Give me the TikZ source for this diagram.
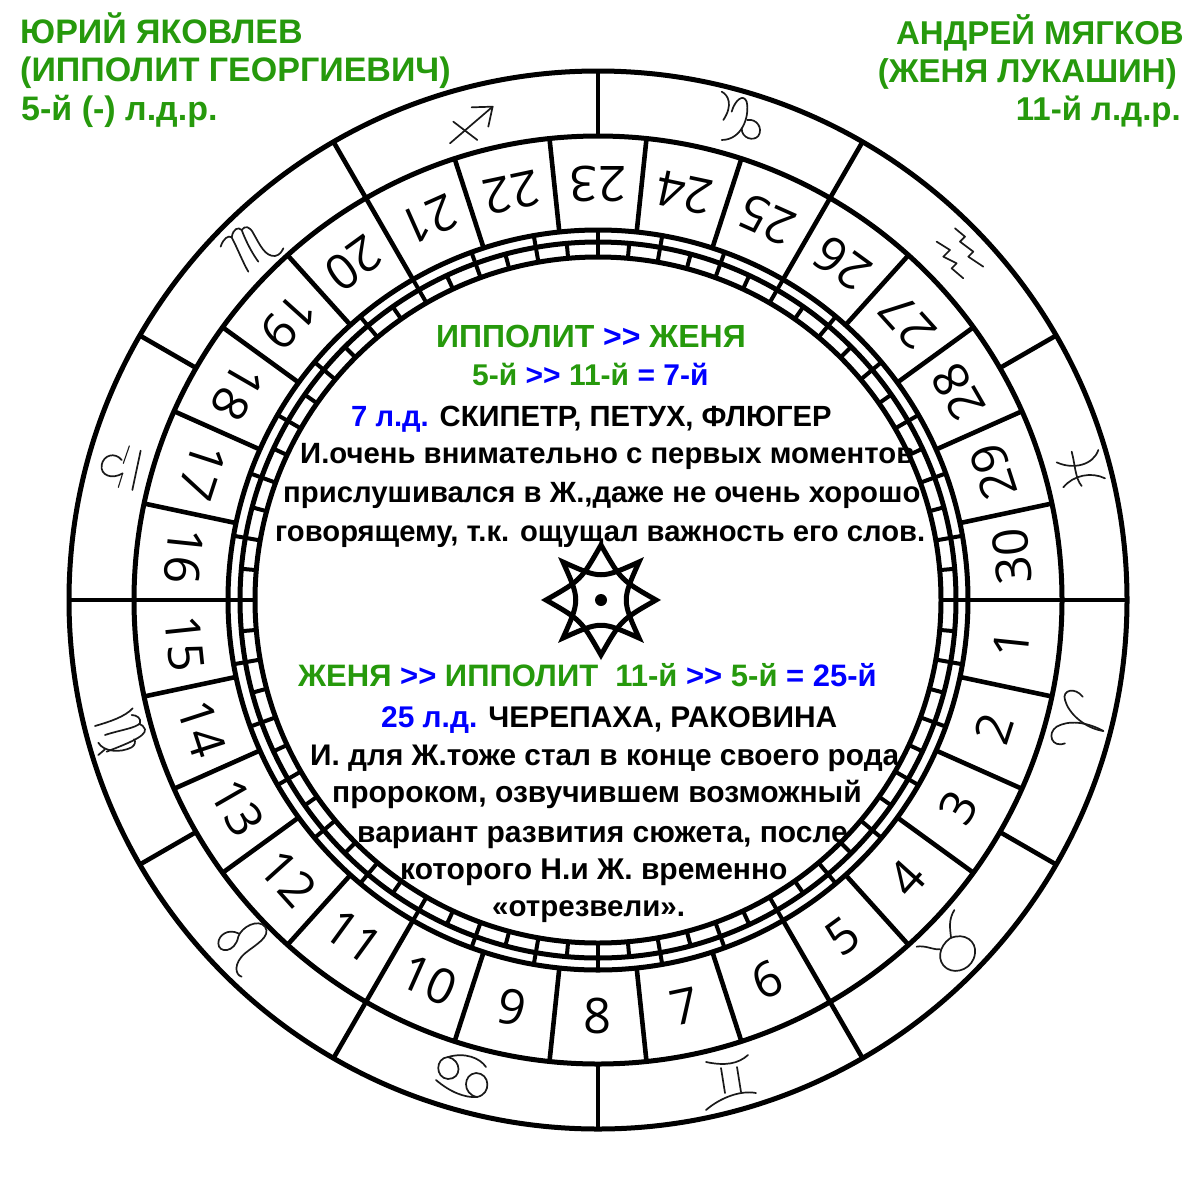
\documentclass[tikz,border=0pt]{standalone}
\usepackage{fontspec}
\setmainfont{Liberation Sans}
\newfontfamily\numf{Open Sans}
\definecolor{gr}{HTML}{26990C}
\definecolor{bl}{HTML}{0000FF}
\newcommand{\tl}[5]{\node[anchor=base west,inner sep=0pt] (#1) at (#2,#3) {\fontsize{#4}{#4}\selectfont\bfseries #5};}
\newcommand{\tr}[5]{\node[anchor=base east,inner sep=0pt] (#1) at (#2,#3) {\fontsize{#4}{#4}\selectfont\bfseries #5};}
\newcommand{\G}[1]{\textcolor{gr}{#1}}
\newcommand{\B}[1]{\textcolor{bl}{#1}}
\newcommand{\dgt}{>{}>}
\tikzset{ring/.style={line width=5pt},spoke/.style={line width=4.6pt},tick/.style={line width=4pt},
 gly/.style={line width=1.7pt,line cap=round,line join=round,black!90}}
\begin{document}
\begin{tikzpicture}[x=1pt,y=-1pt]
\useasboundingbox (0,0) rectangle (1200,1200);
\fill[white] (0,0) rectangle (1200,1200);
\begin{scope}[shift={(598,600)}]
 \draw[ring] (0,0) circle[radius=529];
 \draw[ring] (0,0) circle[radius=464];
 \draw[ring] (0,0) circle[radius=370];
 \draw[ring] (0,0) circle[radius=358];
 \draw[ring] (0,0) circle[radius=343];
 \foreach \a in {0,30,...,330} \draw[spoke] (\a:464pt) -- (\a:529pt);
 \foreach \a in {0,12,...,348} \draw[spoke] (\a:370pt) -- (\a:464pt);
 \foreach \a in {0,10,...,350} \draw[tick] (\a:343pt) -- (\a:370pt);
 \foreach \a in {5,15,...,355} \draw[tick] (\a:343pt) -- (\a:358pt);
 \foreach \n in {1,...,30}{
  \pgfmathsetmacro{\ang}{270+(8-\n)*12}
  \pgfmathsetmacro{\rot}{\ang+90}
  \node[inner sep=0pt,rotate=\rot] (n\n) at (\ang:416pt) {\numf\fontsize{49}{49}\selectfont \n};
 }
\end{scope}
% star
\begin{scope}[shift={(601,600)},line width=5pt,line join=miter,miter limit=20]
 \fill (0,0) circle[radius=6];
 \draw (0,-55) .. controls (-20,-20) and (-20,-20) .. (-55,0) .. controls (-20,20) and (-20,20) .. (0,55) .. controls (20,20) and (20,20) .. (55,0) .. controls (20,-20) and (20,-20) .. cycle;
 \draw (-38,-38) .. controls (0,-21) and (0,-21) .. (38,-38) .. controls (21,0) and (21,0) .. (38,38) .. controls (0,21) and (0,21) .. (-38,38) .. controls (-21,0) and (-21,0) .. cycle;
\end{scope}
% zodiac: coordinates read in zoomed crops
\begin{scope}[shift={(200,60)},x=.3333pt,y=-.3333pt,gly]
 % sagittarius
 \draw (750,250) -- (878,140);
 \draw (815,142) -- (878,140) -- (865,200);
 \draw (760,185) -- (832,240);
 % scorpio
 \draw (62,560) .. controls (70,535) and (85,525) .. (95,532) .. controls (110,560) and (130,610) .. (145,635);
 \draw (95,532) .. controls (100,505) and (115,500) .. (125,510) .. controls (140,550) and (160,585) .. (175,605);
 \draw (125,510) .. controls (135,495) and (150,500) .. (160,520) .. controls (180,555) and (195,590) .. (225,588) .. controls (240,585) and (245,575) .. (250,565);
\end{scope}
\begin{scope}[shift={(600,60)},x=.3333pt,y=-.3333pt,gly]
 % capricorn
 \draw (365,95) .. controls (385,105) and (400,135) .. (370,180);
 \draw (395,155) .. controls (405,120) and (430,100) .. (440,125) .. controls (450,170) and (425,240) .. (365,240);
 \draw (442,180) .. controls (470,175) and (490,205) .. (475,228) .. controls (460,245) and (425,235) .. (425,205);
 % aquarius
 \draw (1065,505) -- (1095,530) -- (1080,545) -- (1120,575) -- (1105,590) -- (1150,620);
 \draw (1010,545) -- (1050,570) -- (1030,590) -- (1070,610) -- (1055,625) -- (1090,655);
\end{scope}
\begin{scope}[shift={(1030,420)},x=.3333pt,y=-.3333pt,gly]
 % pisces
 \draw (80,127) .. controls (130,150) and (190,135) .. (205,90);
 \draw (100,202) .. controls (130,165) and (185,155) .. (225,175);
 \draw (125,95) .. controls (135,130) and (135,175) .. (155,198);
\end{scope}
\begin{scope}[shift={(1030,660)},x=.3333pt,y=-.3333pt,gly]
 % aries
 \draw (158,110) .. controls (135,80) and (95,90) .. (105,120) .. controls (115,160) and (165,205) .. (220,213);
 \draw (220,213) .. controls (170,185) and (115,180) .. (80,200) .. controls (50,220) and (65,265) .. (105,250);
\end{scope}
\begin{scope}[shift={(895,900)},x=.3333pt,y=-.3333pt,gly]
 % taurus
 \draw (165,115) .. controls (210,95) and (245,125) .. (240,160) .. controls (235,205) and (185,225) .. (155,205) .. controls (125,185) and (130,140) .. (165,115);
 \draw (178,30) .. controls (160,60) and (165,85) .. (168,112);
 \draw (65,140) .. controls (90,135) and (115,150) .. (135,148);
\end{scope}
\begin{scope}[shift={(185,900)},x=.3333pt,y=-.3333pt,gly]
 % leo
 \draw (160,100) .. controls (130,85) and (100,105) .. (100,130) .. controls (100,160) and (150,160) .. (160,110) .. controls (170,80) and (220,55) .. (240,80) .. controls (260,110) and (210,135) .. (180,160) .. controls (145,190) and (150,225) .. (170,230);
\end{scope}
\begin{scope}[shift={(70,690)},x=.3333pt,y=-.3333pt,gly]
 % virgo
 \draw (75,108) .. controls (120,95) and (165,80) .. (188,55);
 \draw (105,135) .. controls (150,120) and (195,115) .. (210,100) .. controls (215,85) and (200,75) .. (185,75);
 \draw (110,185) .. controls (160,165) and (230,140) .. (225,118) .. controls (222,108) and (215,105) .. (208,102);
 \draw (85,158) .. controls (100,185) and (150,190) .. (185,172) .. controls (195,165) and (198,155) .. (192,148);
 \draw (85,195) -- (105,178);
\end{scope}
\begin{scope}[shift={(70,430)},x=.3333pt,y=-.3333pt,gly]
 % libra
 \draw (155,90) .. controls (135,65) and (100,75) .. (95,105) .. controls (90,135) and (125,150) .. (158,130);
 \draw[line width=1.1pt] (178,48) -- (160,100);
 \draw[line width=1.1pt] (158,130) -- (145,172);
 \draw (212,62) -- (187,180);
\end{scope}
\begin{scope}[gly]
 % gemini
 \draw (706,1062) .. controls (725,1066) and (738,1064) .. (748,1055);
 \draw (706,1110) .. controls (720,1098) and (740,1090) .. (756,1093);
 \draw (721,1068) -- (725,1093);
 \draw (737,1067) -- (741,1092);
 % cancer
 \draw (448,1057) .. controls (465,1052) and (480,1058) .. (486,1067);
 \draw (448,1057) .. controls (435,1058) and (435,1078) .. (448,1079) .. controls (462,1079) and (462,1060) .. (448,1057);
 \draw (436,1080) .. controls (450,1092) and (465,1098) .. (477,1097);
 \draw (477,1097) .. controls (492,1094) and (490,1073) .. (476,1073) .. controls (463,1074) and (462,1094) .. (477,1097);
\end{scope}
% headings
\tl{h1}{20}{43}{34}{\G{ЮРИЙ ЯКОВЛЕВ}}
\tl{h2}{20}{81}{34}{\G{(ИППОЛИТ ГЕОРГИЕВИЧ)}}
\tl{h3}{21}{120}{34}{\G{5-й (-) л.д.р.}}
\tr{h4}{1184}{44}{33}{\G{АНДРЕЙ МЯГКОВ}}
\tr{h5}{1177}{82}{33}{\G{(ЖЕНЯ ЛУКАШИН)}}
\tr{h6}{1181}{120}{33}{\G{11-й л.д.р.}}
% upper block
\tl{a1}{436}{347}{32}{\G{ИППОЛИТ} \B{\dgt} \G{ЖЕНЯ}}
\tl{a2}{472}{385}{30}{\G{5-й} \B{\dgt} \G{11-й} \B{= 7-й}}
\tl{a3}{351}{426}{29.2}{\B{7 л.д.} СКИПЕТР, ПЕТУХ, ФЛЮГЕР}
\tl{a4}{300}{463}{29.3}{И.очень внимательно с первых моментов}
\tl{a5}{283}{502}{29.3}{прислушивался в Ж.,даже не очень хорошо}
\tl{a6}{275}{541}{29.2}{говорящему, т.к. ощущал важность его слов.}
% lower block
\tl{b1}{298}{686}{31}{\G{ЖЕНЯ} \B{\dgt} \G{ИППОЛИТ}\ \ \G{11-й} \B{\dgt} \G{5-й} \B{= 25-й}}
\tl{b2}{381}{727}{29.9}{\B{25 л.д.} ЧЕРЕПАХА, РАКОВИНА}
\tl{b3}{310}{765}{29.8}{И. для Ж.тоже стал в конце своего рода}
\tl{b4}{332}{802}{30}{пророком, озвучившем возможный}
\tl{b5}{357}{842}{30}{вариант развития сюжета, после}
\tl{b6}{400}{879}{30}{которого Н.и Ж. временно}
\tl{b7}{492}{916}{29.5}{«отрезвели».}
\end{tikzpicture}
\end{document}
